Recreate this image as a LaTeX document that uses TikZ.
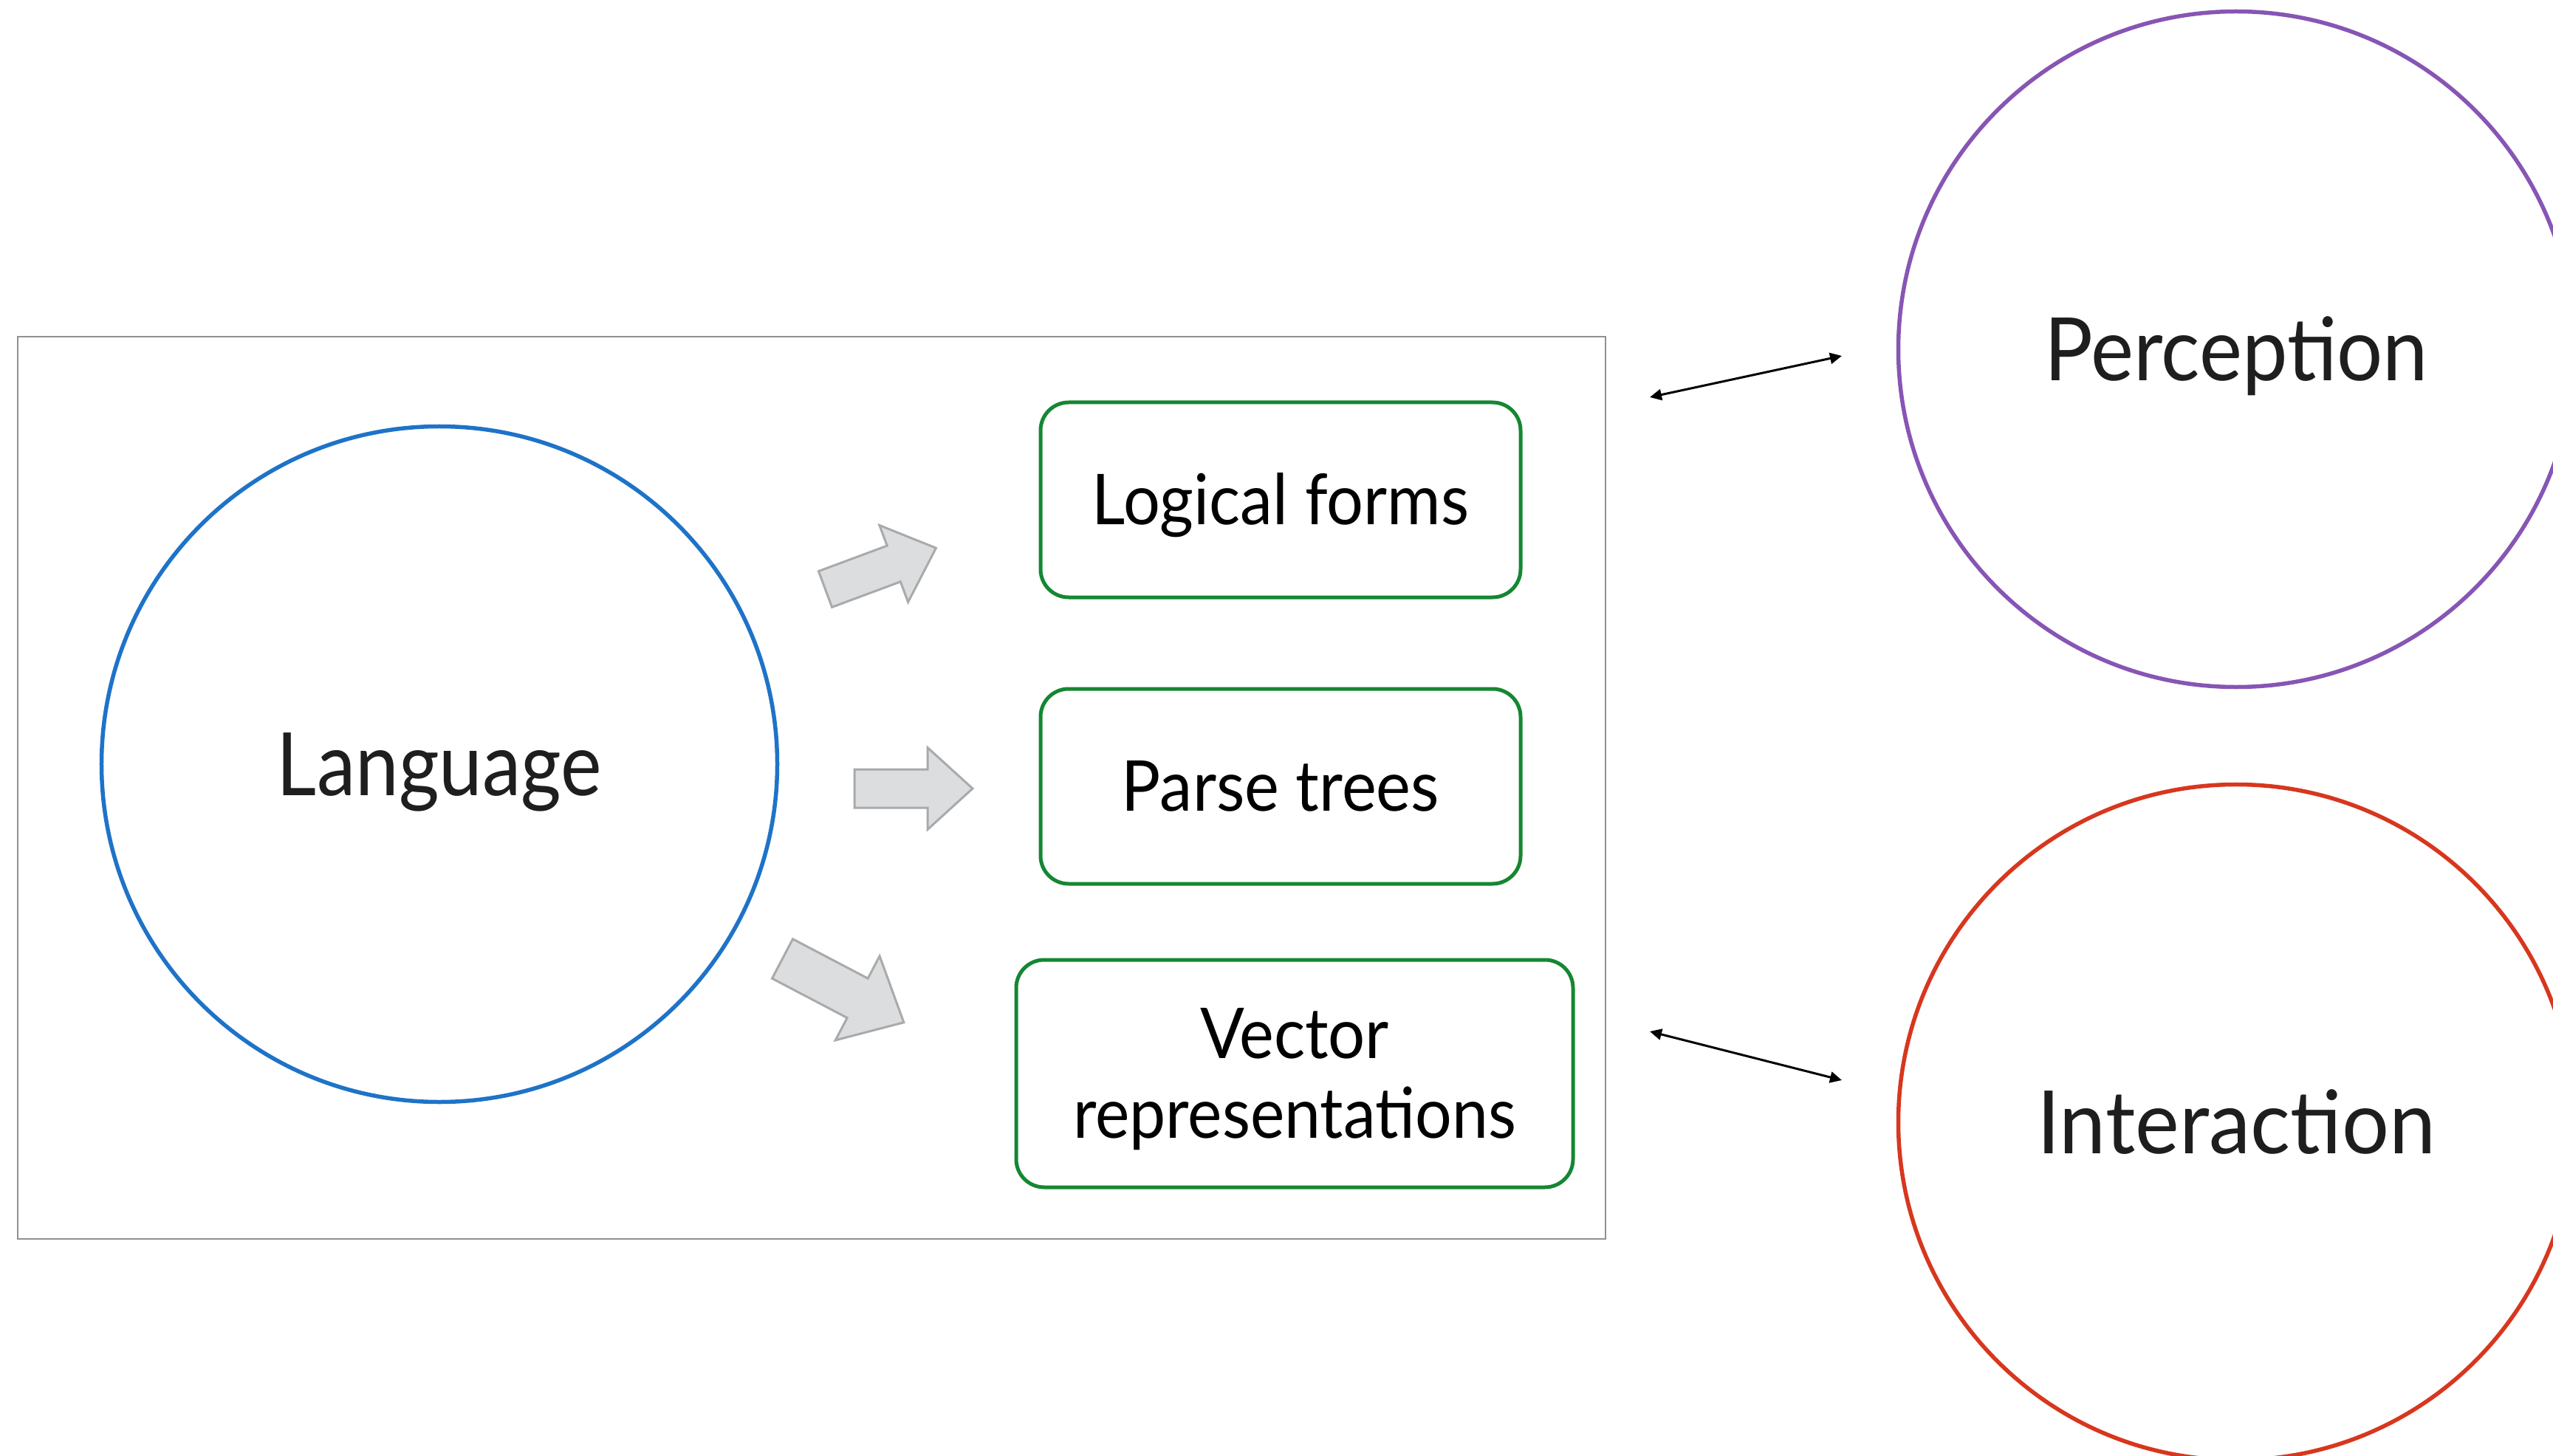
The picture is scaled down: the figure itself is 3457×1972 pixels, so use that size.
\documentclass[tikz,border=0pt]{standalone}
\usepackage{fontspec}
\setmainfont{Lato}
\usepackage{graphicx}
\usetikzlibrary{arrows.meta}

\definecolor{langblue}{RGB}{30,115,200}
\definecolor{percpurple}{RGB}{135,85,180}
\definecolor{interred}{RGB}{215,55,30}
\definecolor{boxgreen}{RGB}{20,135,50}
\definecolor{framegray}{RGB}{142,144,147}
\definecolor{arrowfill}{RGB}{220,221,223}
\definecolor{arrowline}{RGB}{168,170,172}
\definecolor{labelink}{RGB}{30,30,30}

% set a label to a given width, keeping its height
\newcommand{\fitlabel}[2]{\resizebox{#1}{\height}{#2}}

\tikzset{
  bigfont/.style={font=\fontsize{23.7pt}{28pt}\selectfont, text=labelink},
  boxfont/.style={font=\fontsize{19pt}{21.6pt}\selectfont, text=black},
  topic/.style={circle, draw, line width=1.1pt, minimum size=183pt, inner sep=0pt,
                bigfont, text height=17pt, text depth=0pt},
  form/.style={rectangle, rounded corners=7.6pt, draw=boxgreen, line width=1pt,
               inner sep=0pt, boxfont, text height=13.4pt, text depth=0pt},
  panel/.style={rectangle, draw=framegray, line width=0.5pt, inner sep=0pt},
  blockarrowline/.style={fill=arrowfill, draw=arrowline, line width=0.6pt, line join=miter},
  biarrow/.style={line width=0.6pt,
    {Triangle[length=3.2pt,width=3pt]}-{Triangle[length=3.2pt,width=3pt]}},
  pics/blockarrow/.style={code={
    \draw[blockarrowline] (0,-26) -- (99,-26) -- (99,-55.5) -- (160,0)
      -- (99,55.5) -- (99,26) -- (0,26) -- cycle;}}
}

\begin{document}
\begin{tikzpicture}[x=0.2pt, y=-0.2pt]
  \useasboundingbox (0,0) rectangle (3457,1972);
  \clip (0,0) rectangle (3457,1972);
  \fill[white] (0,0) rectangle (3457,1972);

  % framed language panel
  \node[panel, minimum width=430pt, minimum height=244.4pt] (panel) at (1099,1067) {};

  % topic circles
  \node[topic, draw=langblue] (lang) at (595,1035) {\fitlabel{88pt}{Language}};
  \node[topic, draw=percpurple] (perc) at (3028,473) {\fitlabel{104pt}{Perception}};
  \node[topic, draw=interred] (inter) at (3028,1520) {\fitlabel{108pt}{Interaction}};

  % meaning representations
  \node[form, minimum width=130pt, minimum height=52.8pt] (logic) at (1734,677)
    {\fitlabel{102pt}{Logical forms}};
  \node[form, minimum width=130pt, minimum height=52.8pt] (parse) at (1734,1065)
    {\fitlabel{86pt}{Parse trees}};
  \node[form, minimum width=150.8pt, minimum height=61.6pt, text height=13.2pt, text depth=21.6pt] (vector) at (1753,1454)
    {\parbox[t]{150pt}{\centering\fitlabel{51.2pt}{Vector}\\\fitlabel{120pt}{representations}}};

  % block arrows from the language circle
  \pic[rotate=20.4] at (1117.5,798) {blockarrow};
  \pic at (1157,1068) {blockarrow};
  \pic[rotate=-27.7, scale=1.16] at (1059.5,1298.5) {blockarrow};

  % two-way links to perception and interaction
  \coordinate (upL) at (2234,538);
  \coordinate (upR) at (2494,482);
  \coordinate (dnL) at (2234,1397);
  \coordinate (dnR) at (2494,1463);
  \draw[biarrow] (upL) -- (upR);
  \draw[biarrow] (dnL) -- (dnR);
\end{tikzpicture}
\end{document}
